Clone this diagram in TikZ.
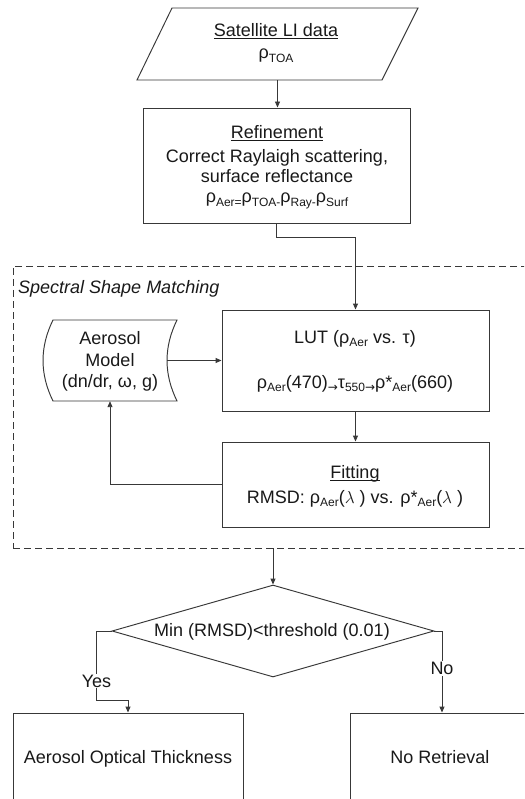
\documentclass[tikz,border=0pt]{standalone}
\usepackage{fontspec}
\setmainfont{Liberation Sans}
\newfontfamily\symfont{DejaVu Sans}
\usetikzlibrary{arrows.meta,shapes.geometric,calc}
% lowered, smaller index text
\newcommand\lsub[1]{\raisebox{-3.5pt}{\fontsize{12}{12}\selectfont #1}}
% small arrow set at index level
\newcommand\sarr{\raisebox{-3pt}{\symfont\fontsize{12}{12}\selectfont →}}
% fixed-depth underline
\newcommand\ulined[1]{\leavevmode\setbox0\hbox{#1}\rlap{\rule[-2.4pt]{\wd0}{0.9pt}}\box0}
\begin{document}
\begin{tikzpicture}[x=1pt,y=-1pt,
  line/.style={draw=black!78,line width=0.95pt},
  arr/.style={line,-{Triangle[length=6pt,width=5pt]}},
  box/.style={line,rectangle,inner sep=0pt},
  txt/.style={anchor=base,inner sep=0pt,text=black!90,font=\fontsize{18}{21}\selectfont},
  lbl/.style={fill=white,inner sep=1pt,text=black!90,font=\fontsize{18}{21}\selectfont}]
\clip (0,0) rectangle (524,799);
\fill[white] (0,0) rectangle (524,799);

% input data (parallelogram)
\node[inner sep=0pt,minimum width=210pt,minimum height=72pt] (sat) at (277.5,44) {};
\draw[line] (172,8) -- (418,8) -- (382,80) -- (137,80) -- cycle;
\node[txt] (satT) at (276,37) {\ulined{Satellite LI data}};
\node[txt] (satR) at (276,59) {ρ\lsub{TOA}};

% refinement
\node[box,minimum width=267pt,minimum height=115pt] (ref) at (276.5,165.5) {};
\node[txt] (refT) at (277,139) {\ulined{Refinement}};
\node[txt] (refA) at (277,163) {Correct Raylaigh scattering,};
\node[txt] (refB) at (277,183) {surface reflectance};
\node[txt] (refC) at (277,203) {ρ\lsub{Aer=}ρ\lsub{TOA-}ρ\lsub{Ray-}ρ\lsub{Surf}};

% spectral shape matching group
\node[box,dash pattern=on 7pt off 4pt,minimum width=540pt,minimum height=282pt] (ssm) at (283,407) {};
\node[txt,anchor=base west] (ssmT) at (18,293) {\itshape Spectral Shape Matching};

% look-up table
\node[box,minimum width=267pt,minimum height=101pt] (lut) at (355.5,360.5) {};
\node[txt] (lutT) at (355,343) {LUT (ρ\lsub{Aer} vs. τ)};
\node[txt] (lutF) at (355,388) {ρ\lsub{Aer}(470)\sarr τ\lsub{550}\sarr ρ*\lsub{Aer}(660)};

% fitting
\node[box,minimum width=267pt,minimum height=85pt] (fit) at (355.5,484.5) {};
\node[txt] (fitT) at (355,478) {\ulined{Fitting}};
\node[txt] (fitF) at (355,503) {RMSD: ρ\lsub{Aer}($\lambda$\hspace{5pt}) vs. ρ*\lsub{Aer}($\lambda$\hspace{5pt})};

% aerosol model (stored data)
\node[inner sep=0pt,minimum width=114pt,minimum height=81pt] (aer) at (110,360.5) {};
\draw[line] (53,320) -- (177,320) .. controls (163.7,347) and (163.7,374) .. (177,401)
  -- (53,401) .. controls (39.7,374) and (39.7,347) .. (53,320) -- cycle;
\node[txt] (aerA) at (110,344) {Aerosol};
\node[txt] (aerB) at (110,366) {Model};
\node[txt] (aerC) at (110,387) {(dn/dr, ω, g)};

% decision
\node[line,diamond,aspect=3.5,minimum width=322pt,minimum height=92pt,inner sep=0pt] (dec) at (273,631) {};
\node[txt] (decT) at (272,636) {Min (RMSD)<threshold (0.01)};

% outcomes
\node[box,minimum width=230pt,minimum height=90pt] (aot) at (128,758) {};
\node[txt] (aotT) at (128,763) {Aerosol Optical Thickness};
\node[box,minimum width=184pt,minimum height=90pt] (nr) at (442,758) {};
\node[txt] (nrT) at (440,763) {No Retrieval};

% connectors
\draw[arr] (sat.south) -- (sat.south |- ref.north);
\draw[arr] (ref.south) -- ++(0,14) -| (lut.north);
\draw[arr] (aer.east) -- (lut.west);
\draw[arr] (lut.south) -- (fit.north);
\draw[arr] (fit.west) -| (aer.south);
\draw[arr] (ssm.south -| dec.north) -- (dec.north);
\draw[arr] (dec.west) -- ++(-15,0) -- node[lbl,pos=0.725]{Yes} ++(0,69) -| (aot.north);
\draw[arr] (dec.east) -| node[lbl,pos=0.729]{No} (nr.north);
\end{tikzpicture}
\end{document}
